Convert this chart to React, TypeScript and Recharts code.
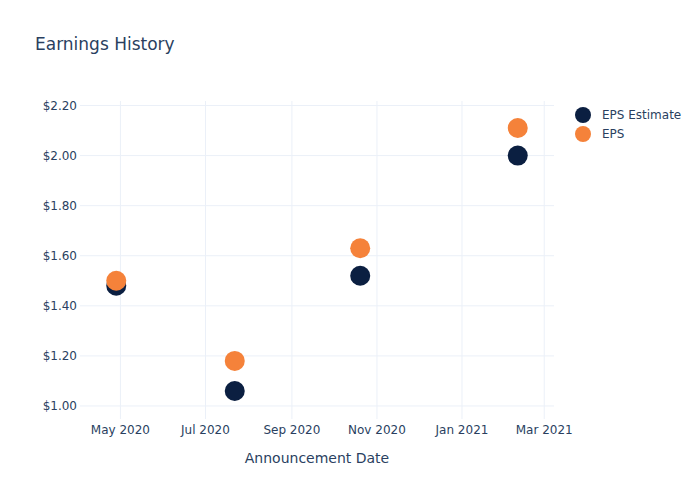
import { ScatterChart, Scatter, XAxis, YAxis, CartesianGrid } from 'recharts';

const announceDates = ['2020-04-28', '2020-07-22', '2020-10-20', '2021-02-10'];
const epsEstimate = [1.48, 1.06, 1.52, 2.0];
const epsActual = [1.5, 1.18, 1.63, 2.11];

const xTicks = ['2020-05-01', '2020-07-01', '2020-09-01', '2020-11-01', '2021-01-01', '2021-03-01'];
const yTicks = [1.0, 1.2, 1.4, 1.6, 1.8, 2.0, 2.2];
const MONTHS = ['Jan', 'Feb', 'Mar', 'Apr', 'May', 'Jun', 'Jul', 'Aug', 'Sep', 'Oct', 'Nov', 'Dec'];

const NAVY = '#0b1f41';
const ORANGE = '#f5823a';
const TEXT = '#2a3f5f';
const GRID = '#ebf0f8';
const FONT = '"DejaVu Sans", sans-serif';

const toTs = (s: string) => Date.parse(s + 'T00:00:00Z');

const estimateData = announceDates.map((d, i) => ({ date: toTs(d), value: epsEstimate[i] }));
const epsData = announceDates.map((d, i) => ({ date: toTs(d), value: epsActual[i] }));

const fmtMonth = (t: number) => {
  const d = new Date(t);
  return `${MONTHS[d.getUTCMonth()]} ${d.getUTCFullYear()}`;
};

const dot = (color: string) => (props: any) => (
  <circle cx={props.cx} cy={props.cy} r={10} fill={color} />
);

const legendItems = [
  { name: 'EPS Estimate', color: NAVY },
  { name: 'EPS', color: ORANGE },
];

function LegendBox() {
  return (
    <div
      style={{
        position: 'absolute',
        left: 574,
        top: 105,
        fontFamily: FONT,
        fontSize: 12,
        color: TEXT,
      }}
    >
      {legendItems.map((it) => (
        <div key={it.name} style={{ display: 'flex', alignItems: 'center', height: 19 }}>
          <svg width={18} height={18} style={{ marginRight: 10 }}>
            <circle cx={9} cy={9} r={8} fill={it.color} />
          </svg>
          <span>{it.name}</span>
        </div>
      ))}
    </div>
  );
}

export default function App() {
  return (
    <div style={{ position: 'absolute', left: 0, top: 0, width: 700, height: 500, background: '#fff' }}>
      <div
        style={{
          position: 'absolute',
          left: 35,
          top: 34,
          fontFamily: FONT,
          fontSize: 17,
          lineHeight: '20px',
          color: TEXT,
        }}
      >
        Earnings History
      </div>
      <ScatterChart width={700} height={500} margin={{ top: 101, right: 146, bottom: 21, left: 0 }}>
        <CartesianGrid stroke={GRID} strokeWidth={1} horizontalValues={yTicks} verticalValues={xTicks.map(toTs)} />
        <XAxis
          type="number"
          dataKey="date"
          domain={[toTs('2020-04-02'), toTs('2021-03-08')]}
          ticks={xTicks.map(toTs)}
          tickFormatter={fmtMonth}
          axisLine={false}
          tickLine={false}
          tickSize={0}
          tickMargin={6}
          height={60}
          interval={0}
          tick={{ fill: TEXT, fontSize: 12, fontFamily: FONT }}
          label={{
            value: 'Announcement Date',
            position: 'insideBottom',
            offset: 16,
            fill: TEXT,
            fontSize: 14,
            fontFamily: FONT,
          }}
        />
        <YAxis
          type="number"
          dataKey="value"
          domain={[0.948, 2.218]}
          ticks={yTicks}
          tickFormatter={(v: number) => `$${v.toFixed(2)}`}
          axisLine={false}
          tickLine={false}
          tickSize={0}
          tickMargin={3}
          width={80}
          interval={0}
          tick={{ fill: TEXT, fontSize: 12, fontFamily: FONT }}
        />
        <Scatter name="EPS Estimate" data={estimateData} fill={NAVY} shape={dot(NAVY)} isAnimationActive={false} />
        <Scatter name="EPS" data={epsData} fill={ORANGE} shape={dot(ORANGE)} isAnimationActive={false} />
      </ScatterChart>
      <LegendBox />
    </div>
  );
}
